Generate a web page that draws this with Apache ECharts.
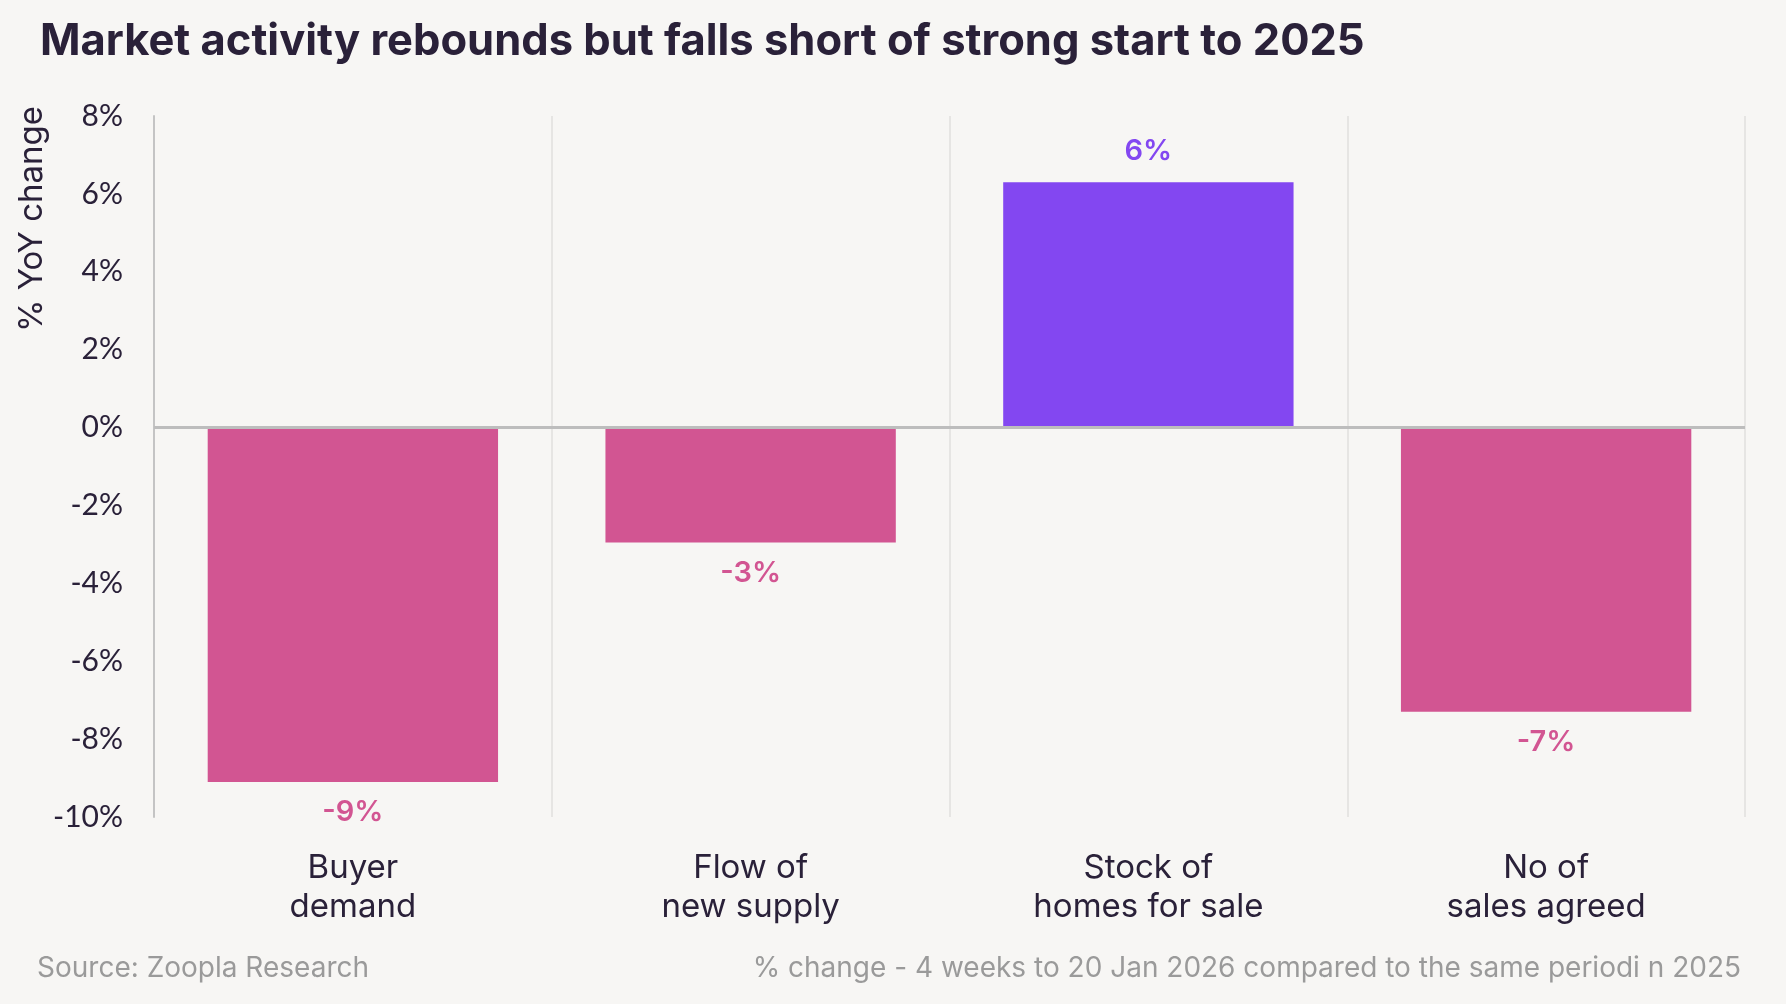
<!DOCTYPE html>
<html>
<head>
<meta charset="utf-8">
<script src="https://cdn.jsdelivr.net/npm/echarts@6/dist/echarts.min.js"></script>
<style>
html,body{margin:0;padding:0;background:#f7f6f4;}
#chart{width:1786px;height:1004px;}
</style>
</head>
<body>
<div id="chart"></div>
<script>
const categories = ['Buyer\ndemand', 'Flow of\nnew supply', 'Stock of\nhomes for sale', 'No of\nsales agreed'];
const values = [-9.1, -2.95, 6.3, -7.3];
const yTicks = { min: -10, max: 8, interval: 2 };
const titleText = 'Market activity rebounds but falls short of strong start to 2025';
const yAxisTitle = '% YoY change';
const sourceText = 'Source: Zoopla Research';
const noteText = '% change - 4 weeks to 20 Jan 2026 compared to the same periodi n 2025';

const PINK = '#d25592';
const PURPLE = '#8347f1';
const DARK = '#2a2139';
const FONT = 'Inter, "Noto Sans", sans-serif';
const TICKFONT = 'Lato, "Noto Sans", sans-serif';

const chart = echarts.init(document.getElementById('chart'));
chart.setOption({
  backgroundColor: '#f7f6f4',
  textStyle: { fontFamily: FONT },
  title: [
    { text: titleText, left: 35, top: 15,
      textStyle: { fontFamily: FONT, fontSize: 43.5, fontWeight: 'bold', color: DARK } },
    { text: sourceText, left: 32, top: 950,
      textStyle: { fontFamily: FONT, fontSize: 28, fontWeight: 'normal', color: '#9a9a9a' } },
    { text: noteText, right: 40, top: 950,
      textStyle: { fontFamily: FONT, fontSize: 28, fontWeight: 'normal', color: '#9a9a9a' } }
  ],
  graphic: [{
    type: 'text', x: 32, y: 219, rotation: Math.PI / 2,
    style: { text: yAxisTitle, fontFamily: FONT, fontSize: 33, fill: DARK,
      textAlign: 'center', textVerticalAlign: 'middle' }
  }],
  grid: { left: 154, right: 41, top: 116, bottom: 187, containLabel: false },
  xAxis: {
    type: 'category', data: categories,
    axisLine: { show: false }, axisTick: { show: false },
    splitLine: { show: true, lineStyle: { color: '#e6e5e3', width: 2 } },
    axisLabel: { fontFamily: FONT, color: DARK, fontSize: 33, lineHeight: 39, margin: 32, interval: 0 }
  },
  yAxis: {
    type: 'value', min: yTicks.min, max: yTicks.max, interval: yTicks.interval,
    axisLine: { show: true, lineStyle: { color: '#c4c4c4', width: 2 } },
    axisTick: { show: false }, splitLine: { show: false },
    axisLabel: { fontFamily: TICKFONT, color: DARK, fontSize: 30, margin: 31, formatter: '{value}%' }
  },
  series: [{
    type: 'bar', barWidth: '73%',
    data: values.map(v => ({
      value: v,
      itemStyle: { color: v >= 0 ? PURPLE : PINK },
      label: { position: v >= 0 ? 'top' : 'bottom', color: v >= 0 ? PURPLE : PINK }
    })),
    label: { show: true, fontFamily: FONT, fontSize: 29, fontWeight: 600, distance: 16,
      formatter: p => Math.round(p.value) + '%' },
    markLine: {
      silent: true, symbol: 'none', label: { show: false },
      lineStyle: { color: '#bdbdbd', width: 3, type: 'solid' },
      data: [{ yAxis: 0 }]
    },
    z: 3
  }]
});
</script>
</body>
</html>
